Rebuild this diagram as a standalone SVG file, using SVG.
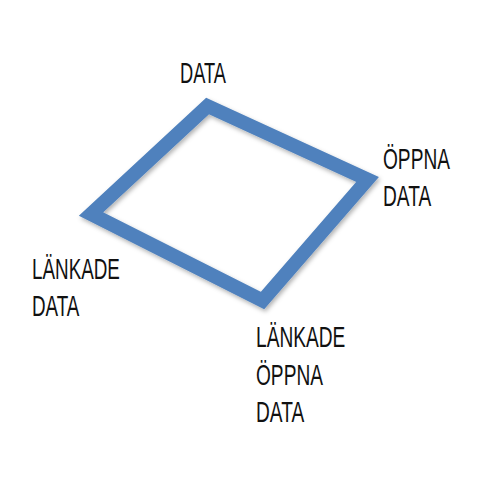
<svg xmlns="http://www.w3.org/2000/svg" width="480" height="480" viewBox="0 0 480 480">
  <style>
    .lbl { font-family: "Liberation Sans", Arial, sans-serif; font-size: 29px; fill: #111111; }
    .frame { fill: none; stroke: #4F81BD; stroke-width: 14; stroke-linejoin: miter; stroke-miterlimit: 10; }
  </style>
  <defs>
    <filter id="shadow" x="-20%" y="-20%" width="140%" height="140%">
      <feDropShadow dx="1.5" dy="2.5" stdDeviation="2" flood-color="#000000" flood-opacity="0.3"/>
    </filter>
  </defs>
  <rect width="480" height="480" fill="#ffffff"/>
  <g id="connectors">
    <polygon class="frame" filter="url(#shadow)" points="207.5,106 367.5,179.5 262.5,300.5 91,214"/>
  </g>
  <g id="node-data" transform="translate(180,0) scale(0.63,1)">
    <text class="lbl" x="0" y="83.5">DATA</text>
  </g>
  <g id="node-oppna-data" transform="translate(383,0) scale(0.66,1)">
    <text class="lbl" x="0" y="169.5">ÖPPNA</text>
    <text class="lbl" x="0" y="206.5">DATA</text>
  </g>
  <g id="node-lankade-data" transform="translate(32,0) scale(0.65,1)">
    <text class="lbl" x="0" y="279.5">LÄNKADE</text>
    <text class="lbl" x="0" y="316.5">DATA</text>
  </g>
  <g id="node-lankade-oppna-data" transform="translate(256,0) scale(0.66,1)">
    <text class="lbl" x="0" y="347">LÄNKADE</text>
    <text class="lbl" x="0" y="385">ÖPPNA</text>
    <text class="lbl" x="0" y="422">DATA</text>
  </g>
</svg>
